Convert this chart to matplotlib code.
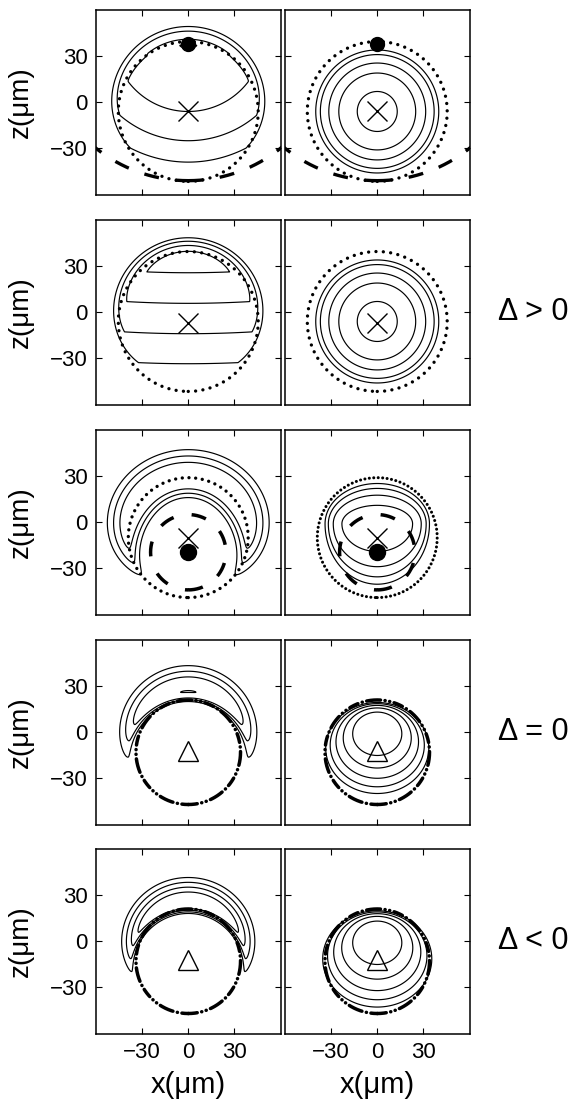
import numpy as np
import matplotlib
matplotlib.use('Agg')
import matplotlib.pyplot as plt

plt.rcParams['font.family'] = ['Liberation Sans', 'DejaVu Sans']

# ---------------- data ----------------
TICKS = [-30, 0, 30]
LIM = (-60, 60)
Y_LABEL = 'z(\u03bcm)'
X_LABEL = 'x(\u03bcm)'
ROW_TEXT = ['', '\u0394 > 0', '', '\u0394 = 0', '\u0394 < 0']

# row 1 (Delta > 0, shell far from trap centre)
R1_SHELL = (0.0, -6.0, 45.5)          # cx, cz, R  (dotted resonance surface)
R1_BIG = (0.0, 45.0, 96.0)            # dashed surface
R1_CROSS = (0.0, -6.0)
R1_DOT = (0.0, 38.0)
R1L_K = 0.0102
R1L_WALL = (44.5, 2.5, 0.32)          # R0, linear, quadratic
R1L_STEP = (24.0, 44.3, 0.15, 2.3, 2.0)   # J, R_step, width, dR_top, power
R1L_LEVELS = [-17.8, 6.0, 28.7, 50.0]
R1R_RADII = [13.0, 25.0, 31.5, 37.0, 40.0]

# row 2
R2_SHELL = (0.0, -6.0, 45.5)
R2_CROSS = (0.0, -7.0)
R2L_K = 0.0007
R2L_WALL = (42.0, 2.47, 0.32)
R2L_STEP = (0.0, 42.0, 0.15, 0.0, 2.0)
R2L_LEVELS = [-25.0, -5.7, 14.0, 34.0]
R2R_RADII = [13.0, 25.0, 31.5, 37.0, 40.0]

# row 3
R3_SHELL = (0.0, -10.0, 39.0)
R3_INNER = (0.0, -19.5, 24.5)
R3_CROSS = (0.0, -10.5)
R3_DOT = (0.0, -19.5)
R3L_PAR = (0.0, 0.245, 0.36, 2.0, 1.4, 2.2)      # d0, a_out, a_in, eps, c, q
R3L_LEVELS = [2.0, 3.0, 4.0]
R3R_PAR = (-1.0, 1.0, 1.5, 44.0)                 # z0, s_up, s_down, kappa
R3R_LEVELS = [12.0, 18.6, 23.0, 26.2]

# row 4 (Delta = 0)
R4_SHELL = (0.0, -13.0, 34.0)
R4_TRI = (0.0, -12.0)
R4L_PAR = (5.3, 0.28, 1.0, 3.0, 3.7, 1.0)
R4L_LEVELS = [0.03, 2.0, 3.0, 4.0]
R4R_PAR = (2.27, 28.8, 0.78)                     # zt, delta, s
R4R_LEVELS = [6.54, 12.0, 17.0, 21.4, 25.0]

# row 5 (Delta < 0)
R5_SHELL = (0.0, -13.0, 34.0)
R5_TRI = (0.0, -12.0)
R5L_PAR = (3.4, 0.32, 1.0, 1.5, 4.2, 1.06)
R5L_LEVELS = [2.0, 3.0, 4.0, 5.0]
R5R_PAR = (2.27, 28.8, 0.78)
R5R_LEVELS = [6.54, 13.0, 18.7, 23.5, 27.5]

# ---------------- fields ----------------
g = np.linspace(LIM[0], LIM[1], 961)
X, Z = np.meshgrid(g, g)


def wall_field(shell, k, wall, step):
    cx, cz, _ = shell
    R0, b, a = wall
    J, Rs, w, dR, p = step
    rho = np.hypot(X - cx, Z - cz)
    ct = np.clip((Z - cz) / np.maximum(rho, 1e-9), 0, None) ** p
    e = np.clip(rho - R0 - dR * ct, 0, None)
    return -Z + k * rho ** 2 + b * e + a * e ** 2 + J * ct / (1 + np.exp(-(rho - Rs) / w))


def radial_field(shell):
    cx, cz, _ = shell
    return np.hypot(X - cx, Z - cz)


def shell_field(shell, par):
    cx, cz, R = shell
    d0, a_out, a_in, eps, c, q = par
    rho = np.hypot(X - cx, Z - cz)
    d = rho - R - d0
    a = np.where(d > 0, a_out, a_in)
    f = a * (np.sqrt(d ** 2 + eps ** 2) - eps)
    u = 1.0 - (Z - cz) / np.maximum(rho, 1e-9)
    return f + c * np.clip(u, 0, None) ** q


def egg_field(par):
    z0, s_up, s_dn, kappa = par
    u = Z - z0
    us = np.where(u > 0, u / s_up, u / s_dn)
    return 0.5 * (X ** 2 / kappa + np.sqrt(X ** 4 / kappa ** 2 + 4 * us ** 2))


def tangent_field(par):
    zt, delta, s = par
    den = zt + delta - Z
    V = (s * X ** 2 + (Z - zt) ** 2) / np.where(den > 0.5, den, 1.0)
    return np.ma.masked_where(den <= 1.0, V)


# ---------------- drawing helpers ----------------
def circle(ax, c, **kw):
    cx, cz, R = c
    t = np.linspace(-np.pi / 2, 1.5 * np.pi, 1441)
    ax.plot(cx + R * np.cos(t), cz + R * np.sin(t), color='k', **kw)


def dotted(ax, c, gap=2.2, lw=2.4):
    circle(ax, c, lw=lw, ls=(0, (0.01, gap)), dash_capstyle='round', zorder=3)


def dashed(ax, c, on=4.5, off=5.0, lw=2.4):
    circle(ax, c, lw=lw, ls=(0, (on, off)), dash_capstyle='butt', zorder=3)


def dashdot(ax, c, lw=2.5):
    circle(ax, c, lw=lw, ls=(0, (2.6, 1.3, 0.05, 1.3, 0.05, 1.3, 4.0, 1.3, 0.05, 1.3)),
           dash_capstyle='round', zorder=3)


def cont(ax, V, levels):
    ax.contour(X, Z, V, levels=sorted(levels), colors='k', linewidths=0.85,
               linestyles='solid', zorder=2)


def cross(ax, p):
    ax.plot([p[0]], [p[1]], marker='x', ms=15, mew=1.0, color='k', zorder=4)


def fdot(ax, p, ms=10):
    ax.plot([p[0]], [p[1]], marker='o', ms=ms, color='k', mec='k', zorder=5)


def tri(ax, p):
    ax.plot([p[0]], [p[1]], marker='^', ms=14.5, mfc='none', mec='k', mew=1.0, zorder=4)


# ---------------- figure ----------------
W, H = 585, 1104
fig = plt.figure(figsize=(W / 100, H / 100), dpi=100)
col_x = [96, 285]
row_y = [10, 220, 430, 640, 849]
size = 184.5

axes = []
for r, y in enumerate(row_y):
    row = []
    for c, x in enumerate(col_x):
        ax = fig.add_axes([x / W, 1 - (y + size) / H, size / W, size / H])
        ax.set_xlim(LIM)
        ax.set_ylim(LIM)
        ax.set_xticks(TICKS)
        ax.set_yticks(TICKS)
        ax.tick_params(direction='in', length=4, width=0.8, top=True, right=True,
                       labelsize=16, pad=6,
                       labelleft=(c == 0), labelbottom=(r == 4))
        for s in ax.spines.values():
            s.set_linewidth(1.1)
        row.append(ax)
    axes.append(row)

# row 1
a, b = axes[0]
cont(a, wall_field(R1_SHELL, R1L_K, R1L_WALL, R1L_STEP), R1L_LEVELS)
cont(b, radial_field(R1_SHELL), R1R_RADII)
for ax in (a, b):
    dotted(ax, R1_SHELL)
    dashed(ax, R1_BIG)
    cross(ax, R1_CROSS)
    fdot(ax, R1_DOT)

# row 2
a, b = axes[1]
cont(a, wall_field(R2_SHELL, R2L_K, R2L_WALL, R2L_STEP), R2L_LEVELS)
cont(b, radial_field(R2_SHELL), R2R_RADII)
for ax in (a, b):
    dotted(ax, R2_SHELL)
    cross(ax, R2_CROSS)

# row 3
a, b = axes[2]
cont(a, shell_field(R3_SHELL, R3L_PAR), R3L_LEVELS)
cont(b, egg_field(R3R_PAR), R3R_LEVELS)
dotted(a, R3_SHELL, gap=2.0)
dotted(b, R3_SHELL, gap=1.45, lw=2.2)
for ax in (a, b):
    dashed(ax, R3_INNER, on=4.3, off=5.3, lw=2.5)
    cross(ax, R3_CROSS)
    fdot(ax, R3_DOT, ms=11.5)

# row 4
a, b = axes[3]
cont(a, shell_field(R4_SHELL, R4L_PAR), R4L_LEVELS)
cont(b, tangent_field(R4R_PAR), R4R_LEVELS)
for ax in (a, b):
    dashdot(ax, R4_SHELL)
    tri(ax, R4_TRI)

# row 5
a, b = axes[4]
cont(a, shell_field(R5_SHELL, R5L_PAR), R5L_LEVELS)
cont(b, tangent_field(R5R_PAR), R5R_LEVELS)
for ax in (a, b):
    dashdot(ax, R5_SHELL)
    tri(ax, R5_TRI)

# labels
for r, y in enumerate(row_y):
    yc = 1 - (y + size / 2) / H
    fig.text(21 / W, yc, Y_LABEL, rotation=90, ha='center', va='center', fontsize=20)
    if ROW_TEXT[r]:
        fig.text(498 / W, yc, ROW_TEXT[r], ha='left', va='center', fontsize=22)
for x in col_x:
    fig.text((x + size / 2) / W, 1 - 1085 / H, X_LABEL, ha='center', va='center', fontsize=21)

fig.savefig('out.png', dpi=100)
